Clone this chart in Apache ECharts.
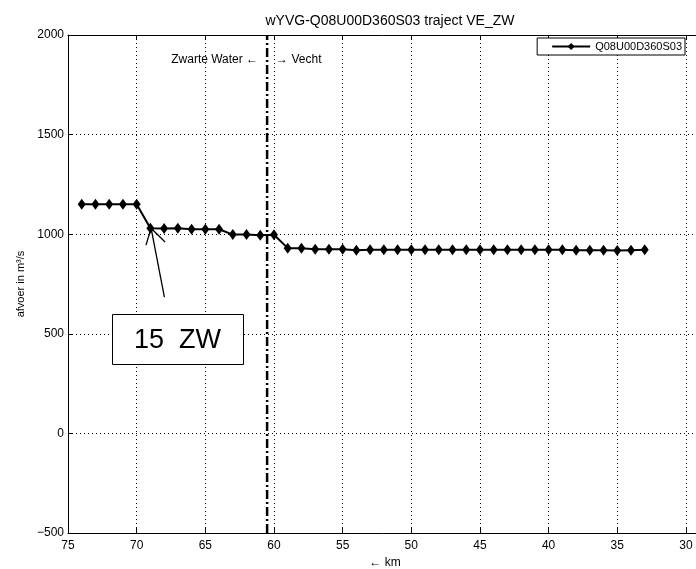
<!DOCTYPE html>
<html><head><meta charset="utf-8">
<script src="https://cdn.jsdelivr.net/npm/echarts@6/dist/echarts.min.js"></script>
<style>html,body{margin:0;padding:0;background:#fff;overflow:hidden}#c{width:696px;height:569px}</style>
</head><body><div id="c"></div>
<script>
// ---- data ----
const km = [74,73,72,71,70,69,68,67,66,65,64,63,62,61,60,59,58,57,56,55,54,53,52,51,50,49,48,47,46,45,44,43,42,41,40,39,38,37,36,35,34,33];
const afvoer = [1150,1150,1150,1150,1150,1030,1028,1030,1025,1025,1025,998,998,995,997,930,930,925,925,925,920,922,922,922,922,922,922,922,922,922,922,922,922,922,922,922,920,920,920,918,920,922];
const seriesName = 'Q08U00D360S03';
const titleText = 'wYVG-Q08U00D360S03 traject VE_ZW';
const xName = '\u2190 km';
const yName = 'afvoer in m\u00B3/s';
const boundaryKm = 60.5;
const boundaryLeftText = 'Zwarte Water \u2190';
const boundaryRightText = '\u2192 Vecht';
const boundaryTextY = 1874;
const xMin = 28.83, xMax = 75;
const yMin = -500, yMax = 2000, yStep = 500;
const annText = '15  ZW';
const annBoxCenter = [67.02, 473];
const arrowTail = [67.98, 684];
const arrowTip = [68.95, 1030];
const arrowHeadL = [69.32, 945];
const arrowHeadR = [67.93, 961];

const FONT = '"Liberation Sans", Arial, sans-serif';
const chart = echarts.init(document.getElementById('c'), null, {renderer: 'canvas'});

const dotted = {color: '#000', width: 1, type: [1, 3]};
const option = {
  animation: false,
  backgroundColor: '#fff',
  textStyle: {fontFamily: FONT, color: '#000'},
  title: {
    text: titleText, left: 385, top: 9, textAlign: 'center',
    textStyle: {fontSize: 14, fontWeight: 'normal', color: '#000', fontFamily: FONT}
  },
  legend: {
    data: [seriesName], right: 11, top: 38,
    borderColor: '#000', borderWidth: 1, borderRadius: 0,
    backgroundColor: '#fff', padding: [3, 3, 3, 14],
    itemWidth: 38, itemHeight: 9, itemGap: 5,
    textStyle: {fontSize: 11, color: '#000', fontFamily: FONT}
  },
  grid: {left: 68, width: 634, top: 35, bottom: 36, containLabel: false, outerBoundsMode: 'none'},
  xAxis: [{
    type: 'value', inverse: true, min: xMin, max: xMax, splitNumber: 9,
    name: xName, nameLocation: 'middle', nameGap: 19,
    nameTextStyle: {fontSize: 12, color: '#000', fontFamily: FONT},
    axisLine: {show: true, onZero: false, lineStyle: {color: '#000', width: 1}},
    axisTick: {show: true, inside: true, length: 5, lineStyle: {color: '#000'}},
    axisLabel: {fontSize: 12, color: '#000', margin: 7, fontFamily: FONT,
      formatter: v => (Math.abs(v % 5) < 1e-6 ? String(v) : '')},
    splitLine: {show: true, lineStyle: dotted}
  }, {
    type: 'value', inverse: true, min: xMin, max: xMax, splitNumber: 9, position: 'top',
    axisLine: {show: true, onZero: false, lineStyle: {color: '#000', width: 1}},
    axisTick: {show: true, inside: true, length: 5, lineStyle: {color: '#000'}},
    axisLabel: {show: false}, splitLine: {show: false}
  }],
  yAxis: [{
    type: 'value', min: yMin, max: yMax, interval: yStep,
    name: yName, nameLocation: 'middle', nameGap: 42,
    nameTextStyle: {fontSize: 11, color: '#000', fontFamily: FONT},
    axisLine: {show: true, onZero: false, lineStyle: {color: '#000', width: 1}},
    axisTick: {show: true, inside: true, length: 5, lineStyle: {color: '#000'}},
    axisLabel: {fontSize: 12, color: '#000', margin: 4, fontFamily: FONT,
      formatter: v => String(v).replace('-', '\u2212')},
    splitLine: {show: true, lineStyle: dotted}
  }],
  series: [{
    name: seriesName, type: 'line', xAxisIndex: 0, yAxisIndex: 0,
    data: km.map((k, i) => [k, afvoer[i]]),
    symbol: 'diamond', symbolSize: [8, 11], showSymbol: true,
    itemStyle: {color: '#000'},
    lineStyle: {color: '#000', width: 2},
    z: 5,
    markLine: {
      silent: true, symbol: 'none', animation: false,
      label: {show: false},
      lineStyle: {color: '#000', width: 1.3, type: 'solid'},
      data: [
        [{coord: arrowTail}, {coord: arrowTip}],
        [{coord: arrowHeadL}, {coord: arrowTip}],
        [{coord: arrowHeadR}, {coord: arrowTip}]
      ]
    }
  }, {
    name: 'grens', type: 'line', xAxisIndex: 0, yAxisIndex: 0,
    data: [[boundaryKm, yMin], [boundaryKm, yMax]],
    symbol: 'none', lineStyle: {color: '#000', width: 2.5, type: [9, 3, 2, 3]},
    z: 4
  }]
};
chart.setOption(option);

const bp = chart.convertToPixel({gridIndex: 0}, annBoxCenter);
const zp = chart.convertToPixel({gridIndex: 0}, [boundaryKm, boundaryTextY]);
chart.setOption({graphic: [
  {type: 'rect', shape: {x: Math.round(bp[0] - 65.5) + 0.5, y: Math.round(bp[1] - 25) + 0.5, width: 131, height: 50},
   style: {fill: '#fff', stroke: '#000', lineWidth: 1}, z: 100},
  {type: 'text', x: bp[0], y: bp[1] + 1, z: 101,
   style: {text: annText, font: '27px ' + FONT, fill: '#000', align: 'center', verticalAlign: 'middle'}},
  {type: 'text', x: zp[0] - 9, y: zp[1], z: 101,
   style: {text: boundaryLeftText, font: '12px ' + FONT, fill: '#000', align: 'right', verticalAlign: 'middle'}},
  {type: 'text', x: zp[0] + 9, y: zp[1], z: 101,
   style: {text: boundaryRightText, font: '12px ' + FONT, fill: '#000', align: 'left', verticalAlign: 'middle'}}
]});
</script>
</body></html>
